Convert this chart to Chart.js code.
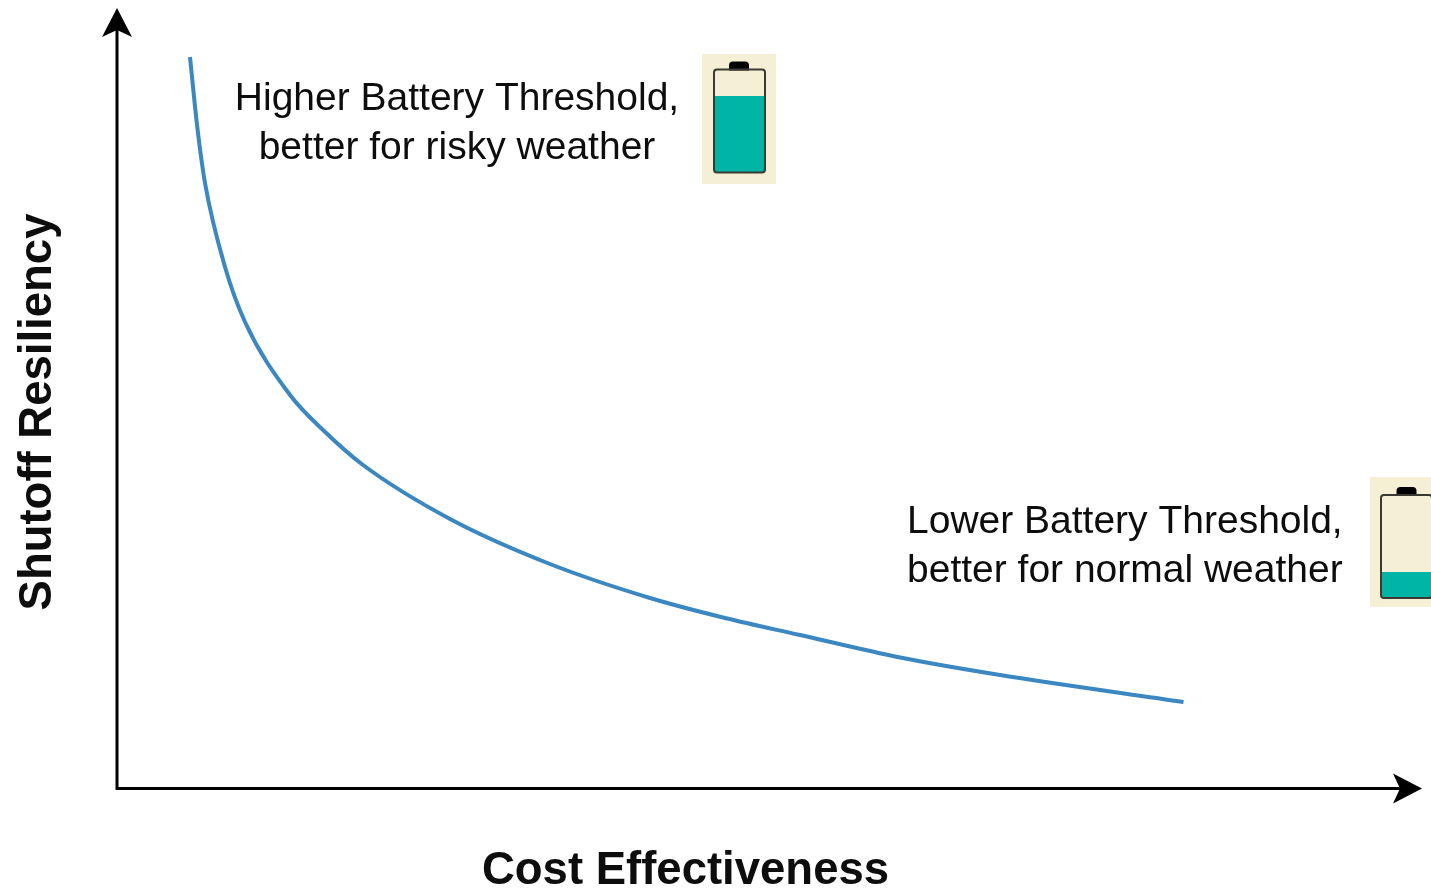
<!DOCTYPE html>
<html>
<head>
<meta charset="utf-8">
<style>
html,body{margin:0;padding:0;background:#fff;overflow:hidden}
canvas{display:block;filter:blur(0.45px)}
</style>
<script src="https://cdn.jsdelivr.net/npm/chart.js@4/dist/chart.umd.min.js"></script>
</head>
<body>
<canvas id="c" width="1431" height="891"></canvas>
<script>
const costEffectiveness = [6.42,7.04,7.74,9.50,11.26,15.22,18.12,21.64,29.29,38.08,46.88,53.47,60.07,68.87,77.66,93.80];
const shutoffResiliency = [97.08,88.06,80.37,69.23,61.94,52.25,47.61,42.97,35.81,29.84,25.33,22.68,20.42,17.44,15.12,11.54];
const xAxisTitle = "Cost Effectiveness";
const yAxisTitle = "Shutoff Resiliency";
const higherLabel = ["Higher Battery Threshold,", "better for risky weather"];
const lowerLabel = ["Lower Battery Threshold,", "better for normal weather"];

const TEXT_FONT = '39px "Liberation Sans", Arial, sans-serif';
const TEXT_COLOR = '#0d0d0d';

function drawBattery(ctx, o){
  ctx.save();
  ctx.fillStyle = '#f5efd6';
  ctx.fillRect(o.bgX, o.bgY, o.bgW, o.bgH);
  ctx.fillStyle = '#000';
  ctx.beginPath();
  ctx.roundRect(o.x + o.capOff, o.y - 8, 20, 9, [4,4,0,0]);
  ctx.fill();
  ctx.fillStyle = '#00b5a5';
  ctx.beginPath();
  ctx.roundRect(o.x, o.fillY, o.w, o.y + o.h - o.fillY, [0,0,3,3]);
  ctx.fill();
  ctx.strokeStyle = '#3a3a32';
  ctx.lineWidth = 2;
  ctx.beginPath();
  ctx.roundRect(o.x, o.y, o.w, o.h, 3);
  ctx.stroke();
  ctx.restore();
}

const overlay = {
  id:'overlay',
  afterDraw(chart){
    const ctx = chart.ctx;
    const xs = chart.scales.x, ys = chart.scales.y;
    const x0 = xs.getPixelForValue(0), y0 = ys.getPixelForValue(0) - 0.5;
    ctx.save();
    ctx.strokeStyle = '#000';
    ctx.lineWidth = 3;
    ctx.beginPath();
    ctx.moveTo(x0, y0 + 1.5); ctx.lineTo(x0, 28);
    ctx.moveTo(x0 - 1.5, y0); ctx.lineTo(1402, y0);
    ctx.stroke();
    ctx.fillStyle = '#000';
    ctx.beginPath();
    ctx.moveTo(x0, 8); ctx.lineTo(x0 + 15, 37); ctx.lineTo(x0, 30); ctx.lineTo(x0 - 15, 37); ctx.closePath();
    ctx.fill();
    ctx.beginPath();
    ctx.moveTo(1422, y0); ctx.lineTo(1393, y0 + 15); ctx.lineTo(1400, y0); ctx.lineTo(1393, y0 - 15); ctx.closePath();
    ctx.fill();

    ctx.font = TEXT_FONT;
    ctx.fillStyle = TEXT_COLOR;
    ctx.textBaseline = 'alphabetic';
    ctx.textAlign = 'center';
    ctx.fillText(higherLabel[0], 457, 110);
    ctx.fillText(higherLabel[1], 457, 159);
    ctx.textAlign = 'left';
    ctx.fillText(lowerLabel[0], 907, 533);
    ctx.fillText(lowerLabel[1], 907, 582);
    ctx.restore();

    drawBattery(ctx,{bgX:702,bgY:54,bgW:74,bgH:130,x:714,y:69.5,w:51,h:103,capOff:15,fillY:96});
    drawBattery(ctx,{bgX:1370,bgY:477,bgW:61,bgH:130,x:1381,y:495,w:51,h:103,capOff:15.5,fillY:572});
  }
};

new Chart(document.getElementById('c'),{
  type:'scatter',
  data:{datasets:[{
    label:'Battery threshold trade-off',
    data:costEffectiveness.map((v,i)=>({x:v,y:shutoffResiliency[i]})),
    showLine:true,
    borderColor:'#3a87c2',
    borderWidth:4,
    pointRadius:0,
    cubicInterpolationMode:'monotone',
    fill:false,
    clip:false
  }]},
  options:{
    responsive:false,
    animation:false,
    events:[],
    layout:{padding:{top:35,right:177,left:0,bottom:0}},
    plugins:{legend:{display:false},tooltip:{enabled:false},title:{display:false}},
    scales:{
      x:{
        type:'linear',min:0,max:100,
        grid:{display:false,drawTicks:false},
        ticks:{display:false},
        border:{display:false},
        title:{display:true,text:xAxisTitle,color:TEXT_COLOR,
          font:{family:'"Liberation Sans", Arial, sans-serif',size:45.5,weight:'bold'},padding:{top:0,bottom:-8}},
        afterFit(s){s.height=102;}
      },
      y:{
        type:'linear',min:0,max:100,
        grid:{display:false,drawTicks:false},
        ticks:{display:false},
        border:{display:false},
        title:{display:true,text:yAxisTitle,color:TEXT_COLOR,
          font:{family:'"Liberation Sans", Arial, sans-serif',size:45.5,weight:'bold'},padding:{top:11,bottom:0}},
        afterFit(s){s.width=117;}
      }
    }
  },
  plugins:[overlay]
});
</script>
</body>
</html>
